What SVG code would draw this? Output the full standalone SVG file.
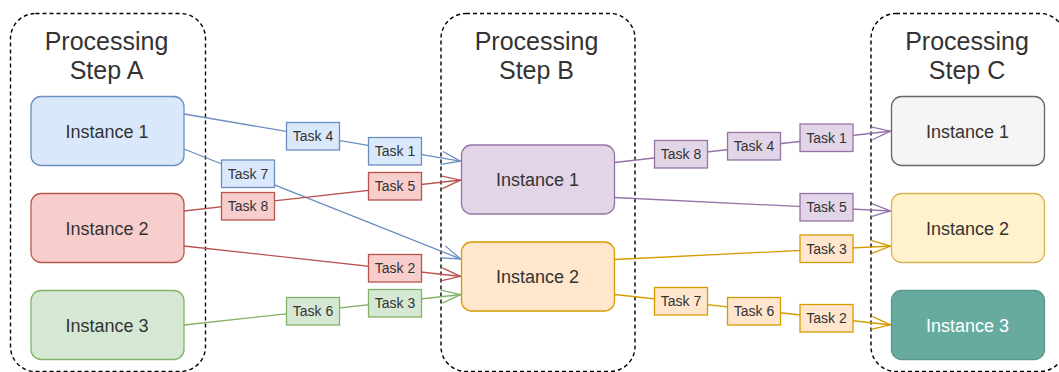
<svg xmlns="http://www.w3.org/2000/svg" width="1059" height="372" viewBox="0 0 1059 372">
<style>
.cont{fill:none;stroke:#000;stroke-width:1.4;stroke-dasharray:4 3}
.title{font-family:"Liberation Sans",Arial,Helvetica,sans-serif;font-size:25px;fill:#333;text-anchor:middle}
.inst{font-family:"Liberation Sans",Arial,Helvetica,sans-serif;font-size:18px;fill:#333;text-anchor:middle}
.task{font-family:"Liberation Sans",Arial,Helvetica,sans-serif;font-size:14px;fill:#333;text-anchor:middle}
.e{fill:none;stroke-width:1.3}
.bl{stroke:#6c8ebf}.rd{stroke:#b85450}.gr{stroke:#82b366}.pu{stroke:#9673a6}.or{stroke:#d79b00}
.nb{fill:#dae8fc;stroke:#6c8ebf;stroke-width:1.3}
.nr{fill:#f8cecc;stroke:#b85450;stroke-width:1.3}
.ng{fill:#d5e8d4;stroke:#82b366;stroke-width:1.3}
.np{fill:#e1d5e7;stroke:#9673a6;stroke-width:1.3}
.no{fill:#ffe6cc;stroke:#d79b00;stroke-width:1.3}
.ny{fill:#fff2cc;stroke:#d6b656;stroke-width:1.3}
.ngy{fill:#f5f5f5;stroke:#666666;stroke-width:1.3}
.nt{fill:#67ab9f;stroke:#5a9a8e;stroke-width:1.3}
</style>
<defs>
<marker id="ab" markerUnits="userSpaceOnUse" markerWidth="26" markerHeight="20" viewBox="-24 -10 26 20" refX="0" refY="0" orient="auto" overflow="visible"><path d="M-20,-6.5 L-1,0 L-20,6.5" fill="none" stroke="#6c8ebf" stroke-width="1.3"/></marker>
<marker id="ar" markerUnits="userSpaceOnUse" markerWidth="26" markerHeight="20" viewBox="-24 -10 26 20" refX="0" refY="0" orient="auto" overflow="visible"><path d="M-20,-6.5 L-1,0 L-20,6.5" fill="none" stroke="#b85450" stroke-width="1.3"/></marker>
<marker id="ag" markerUnits="userSpaceOnUse" markerWidth="26" markerHeight="20" viewBox="-24 -10 26 20" refX="0" refY="0" orient="auto" overflow="visible"><path d="M-20,-6.5 L-1,0 L-20,6.5" fill="none" stroke="#82b366" stroke-width="1.3"/></marker>
<marker id="ap" markerUnits="userSpaceOnUse" markerWidth="26" markerHeight="20" viewBox="-24 -10 26 20" refX="0" refY="0" orient="auto" overflow="visible"><path d="M-20,-6.5 L-1,0 L-20,6.5" fill="none" stroke="#9673a6" stroke-width="1.3"/></marker>
<marker id="ao" markerUnits="userSpaceOnUse" markerWidth="26" markerHeight="20" viewBox="-24 -10 26 20" refX="0" refY="0" orient="auto" overflow="visible"><path d="M-20,-6.5 L-1,0 L-20,6.5" fill="none" stroke="#d79b00" stroke-width="1.3"/></marker>
</defs>

<g id="stepA">
<rect class="cont" x="10.5" y="13.5" width="195" height="358" rx="25"/>
<text class="title" x="106.5" y="50">Processing</text>
<text class="title" x="106.5" y="79">Step A</text>
</g>
<g id="stepB">
<rect class="cont" x="441" y="13.5" width="194" height="358" rx="25"/>
<text class="title" x="536.5" y="50">Processing</text>
<text class="title" x="536.5" y="79">Step B</text>
</g>
<g id="stepC">
<rect class="cont" x="871" y="13.5" width="194" height="358" rx="25"/>
<text class="title" x="967" y="50">Processing</text>
<text class="title" x="967" y="79">Step C</text>
</g>

<g id="connectors">
<line class="e bl" x1="184" y1="114" x2="461.5" y2="161.3" marker-end="url(#ab)"/>
<line class="e bl" x1="184" y1="149" x2="461.5" y2="259.3" marker-end="url(#ab)"/>
<line class="e rd" x1="184" y1="211" x2="461.5" y2="180" marker-end="url(#ar)"/>
<line class="e rd" x1="184" y1="246" x2="461.5" y2="276.5" marker-end="url(#ar)"/>
<line class="e gr" x1="184" y1="325" x2="461.5" y2="294.5" marker-end="url(#ag)"/>
<line class="e pu" x1="614.5" y1="162.5" x2="891.5" y2="131" marker-end="url(#ap)"/>
<line class="e pu" x1="614.5" y1="197.5" x2="891.5" y2="211" marker-end="url(#ap)"/>
<line class="e or" x1="614.5" y1="259.5" x2="891.5" y2="246" marker-end="url(#ao)"/>
<line class="e or" x1="614.5" y1="294.5" x2="891.5" y2="325" marker-end="url(#ao)"/>
</g>

<g id="a1"><rect class="nb" x="31" y="96.5" width="153" height="69" rx="10"/><text class="inst" x="107" y="137.5">Instance 1</text></g>
<g id="a2"><rect class="nr" x="31" y="193.5" width="153" height="69" rx="10"/><text class="inst" x="107" y="234.5">Instance 2</text></g>
<g id="a3"><rect class="ng" x="31" y="290.5" width="153" height="69" rx="10"/><text class="inst" x="107" y="331.5">Instance 3</text></g>

<g id="b1"><rect class="np" x="461.5" y="145" width="153" height="69" rx="10"/><text class="inst" x="537.5" y="186">Instance 1</text></g>
<g id="b2"><rect class="no" x="461.5" y="242" width="153" height="69" rx="10"/><text class="inst" x="537.5" y="283">Instance 2</text></g>

<g id="c1"><rect class="ngy" x="891.5" y="96.5" width="153" height="69" rx="10"/><text class="inst" x="967.5" y="137.5">Instance 1</text></g>
<g id="c2"><rect class="ny" x="891.5" y="193.5" width="153" height="69" rx="10"/><text class="inst" x="967.5" y="234.5">Instance 2</text></g>
<g id="c3"><rect class="nt" x="891.5" y="290.5" width="153" height="69" rx="10"/><text class="inst" x="967.5" y="331.5" style="fill:#fff">Instance 3</text></g>

<g id="ab-task4"><rect class="nb" x="286.5" y="122.5" width="53" height="27.5"/><text class="task" x="313" y="141.3">Task 4</text></g>
<g id="ab-task1"><rect class="nb" x="368.5" y="137.5" width="53" height="27.5"/><text class="task" x="395" y="156.3">Task 1</text></g>
<g id="ab-task7"><rect class="nb" x="221.5" y="160" width="53" height="27.5"/><text class="task" x="248" y="178.8">Task 7</text></g>
<g id="ab-task8"><rect class="nr" x="221.5" y="192.5" width="53" height="27.5"/><text class="task" x="248" y="211.3">Task 8</text></g>
<g id="ab-task5"><rect class="nr" x="368.5" y="172.5" width="53" height="27.5"/><text class="task" x="395" y="191.3">Task 5</text></g>
<g id="ab-task2"><rect class="nr" x="368.5" y="254.5" width="53" height="27.5"/><text class="task" x="395" y="273.3">Task 2</text></g>
<g id="ab-task6"><rect class="ng" x="286.5" y="297.5" width="53" height="27.5"/><text class="task" x="313" y="316.3">Task 6</text></g>
<g id="ab-task3"><rect class="ng" x="368.5" y="289.5" width="53" height="27.5"/><text class="task" x="395" y="308.3">Task 3</text></g>

<g id="bc-task8"><rect class="np" x="654.5" y="140.5" width="53" height="27.5"/><text class="task" x="681" y="159.3">Task 8</text></g>
<g id="bc-task4"><rect class="np" x="727.5" y="132.5" width="53" height="27.5"/><text class="task" x="754" y="151.3">Task 4</text></g>
<g id="bc-task1"><rect class="np" x="800" y="124" width="53" height="27.5"/><text class="task" x="826.5" y="142.8">Task 1</text></g>
<g id="bc-task5"><rect class="np" x="800" y="193.5" width="53" height="27.5"/><text class="task" x="826.5" y="212.3">Task 5</text></g>
<g id="bc-task3"><rect class="no" x="800" y="235" width="53" height="27.5"/><text class="task" x="826.5" y="253.8">Task 3</text></g>
<g id="bc-task7"><rect class="no" x="654.5" y="287.5" width="53" height="27.5"/><text class="task" x="681" y="306.3">Task 7</text></g>
<g id="bc-task6"><rect class="no" x="727.5" y="297.5" width="53" height="27.5"/><text class="task" x="754" y="316.3">Task 6</text></g>
<g id="bc-task2"><rect class="no" x="800" y="304.5" width="53" height="27.5"/><text class="task" x="826.5" y="323.3">Task 2</text></g>
</svg>
